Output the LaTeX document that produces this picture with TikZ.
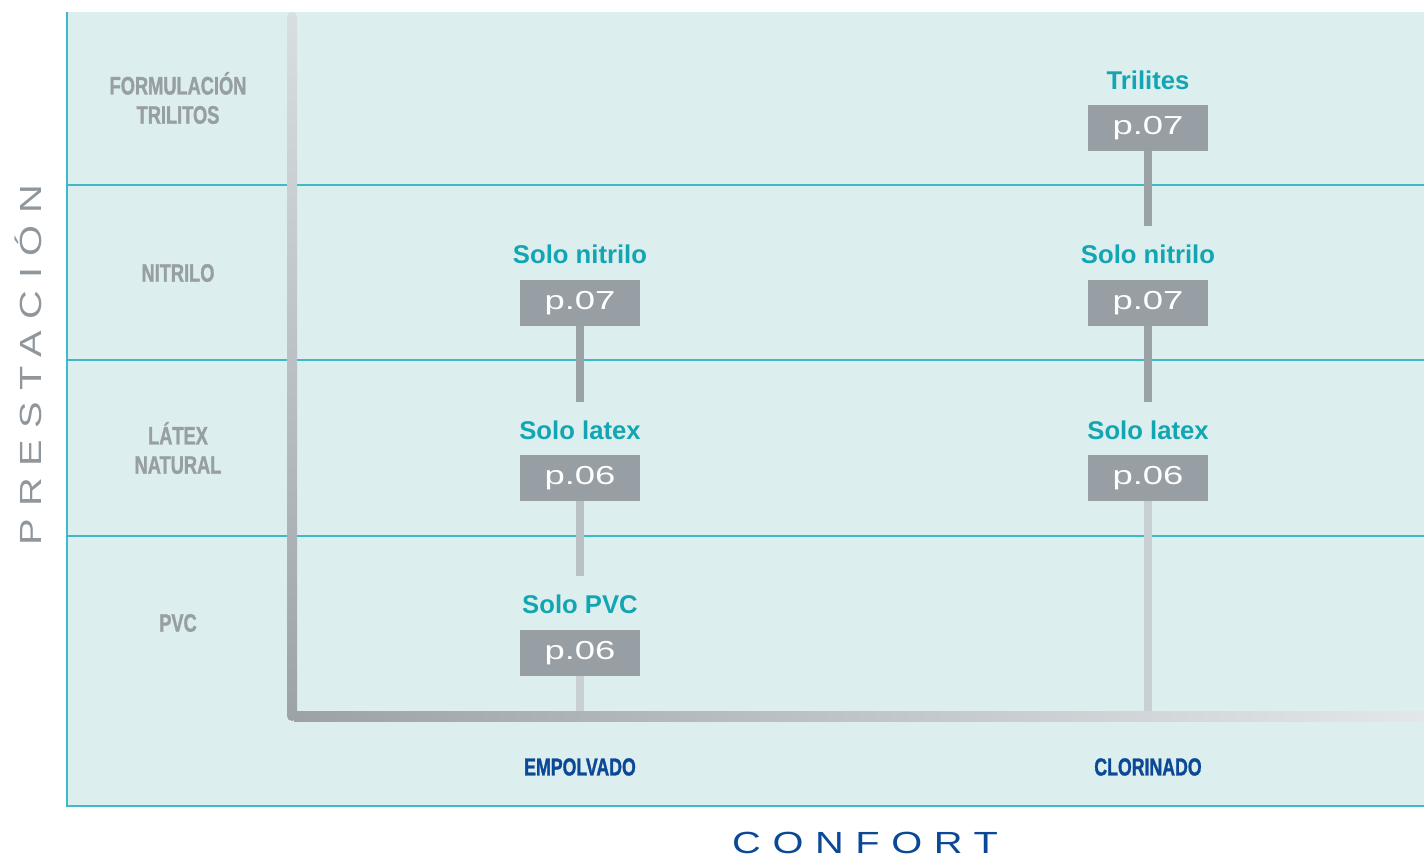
\documentclass[tikz,border=0pt]{standalone}
\usepackage{fontspec}
\setmainfont{Liberation Sans}
\newfontfamily\condfont{Liberation Sans Bold}[FakeStretch=0.72,FakeBold=1.2]
\newfontfamily\pagefont[FakeStretch=1.4]{Liberation Sans}
\newfontfamily\axisfont[FakeStretch=1.3,LetterSpace=38]{Liberation Sans}

\definecolor{panelfill}{HTML}{DDEEEF}
\definecolor{gridteal}{HTML}{3FBAC4}
\definecolor{titleteal}{HTML}{12A6B3}
\definecolor{boxgray}{HTML}{979FA4}
\definecolor{rowgray}{HTML}{979FA4}
\definecolor{axisgray}{HTML}{8F979C}
\definecolor{darkblue}{HTML}{0B4896}
\definecolor{axtop}{HTML}{D9DEE1}
\definecolor{axmid}{HTML}{9CA2A7}
\definecolor{axend}{HTML}{E3E7EA}
\definecolor{barA}{HTML}{9BA2A7}
\definecolor{barB}{HTML}{B9C0C6}
\definecolor{barC}{HTML}{C9D0D5}

\begin{document}
\begin{tikzpicture}
	[x=0.01cm, y=-0.01cm,
	row/.style={font=\condfont\fontsize{7.2}{8.3}\selectfont, text=rowgray, align=center},
	column/.style={font=\condfont\fontsize{7}{8}\selectfont, text=darkblue},
	title/.style={font=\bfseries\fontsize{7.3}{8}\selectfont, text=titleteal, inner sep=0pt, minimum height=0.55cm},
	page/.style={rectangle, fill=boxgray, inner sep=0pt, minimum width=1.2cm, minimum height=0.45cm, text=white, font=\pagefont\fontsize{7.4}{8}\selectfont},
	link/.style={line width=0.08cm, draw=#1},
	grid/.style={draw=gridteal, line width=0.45pt}]
	
	\useasboundingbox (0,0) rectangle (1424,855);
	
	% panel and rows
	\fill[panelfill] (67,12) rectangle (1424,806);
	\draw[grid] (67,12) -- (67,806) -- (1424,806);
	\draw[grid] (67,185) -- (1424,185);
	\draw[grid] (67,360) -- (1424,360);
	\draw[grid] (67,536) -- (1424,536);
	
	% axes
	\shade[top color=axtop, bottom color=axmid, rounded corners=0.05cm] (287,12) rectangle (297,721);
	\shade[left color=axmid, right color=axend] (294,711) rectangle (1424,721);
	
	\node (ya) at ( 28,365 ) [rotate=90, text=axisgray, font=\axisfont\fontsize{8.7}{9}\selectfont] {PRESTACIÓN};
	\node (xa) at ( 865,843 ) [text=darkblue, font=\axisfont\fontsize{8.7}{9}\selectfont] {CONFORT};
	
	% row labels
	\node (r1) at ( 178,98 ) [row] {FORMULACIÓN\\TRILITOS};
	\node (r2) at ( 178,273 ) [row] {NITRILO};
	\node (r3) at ( 178,448 ) [row] {LÁTEX\\NATURAL};
	\node (r4) at ( 178,623 ) [row] {PVC};
	
	% column labels
	\node (c1) at ( 580,767 ) [column] {EMPOLVADO};
	\node (c2) at ( 1148,767 ) [column] {CLORINADO};
	
	% first column EMPOLVADO
	\node (t1) at ( 580,254 ) [title] {Solo nitrilo};
	\node (p1) at ( 580,303 ) [page] {p.07};
	\node (t2) at ( 580,430 ) [title] {Solo latex};
	\node (p2) at ( 580,478 ) [page] {p.06};
	\node (t3) at ( 580,604 ) [title] {Solo PVC};
	\node (p3) at ( 580,653 ) [page] {p.06};
	\coordinate (e1) at ( 580,711 );
	
	\draw [link=barA] (p1) -- (t2);
	\draw [link=barB] (p2) -- (t3);
	\draw [link=barC] (p3) -- (e1);
	
	% second column CLORINADO
	\node (t4) at ( 1148,80 ) [title] {Trilites};
	\node (p4) at ( 1148,128 ) [page] {p.07};
	\node (t5) at ( 1148,254 ) [title] {Solo nitrilo};
	\node (p5) at ( 1148,303 ) [page] {p.07};
	\node (t6) at ( 1148,430 ) [title] {Solo latex};
	\node (p6) at ( 1148,478 ) [page] {p.06};
	\coordinate (e2) at ( 1148,711 );
	
	\draw [link=barA] (p4) -- (t5);
	\draw [link=barA] (p5) -- (t6);
	\draw [link=barC] (p6) -- (e2);

\end{tikzpicture}
\end{document}
